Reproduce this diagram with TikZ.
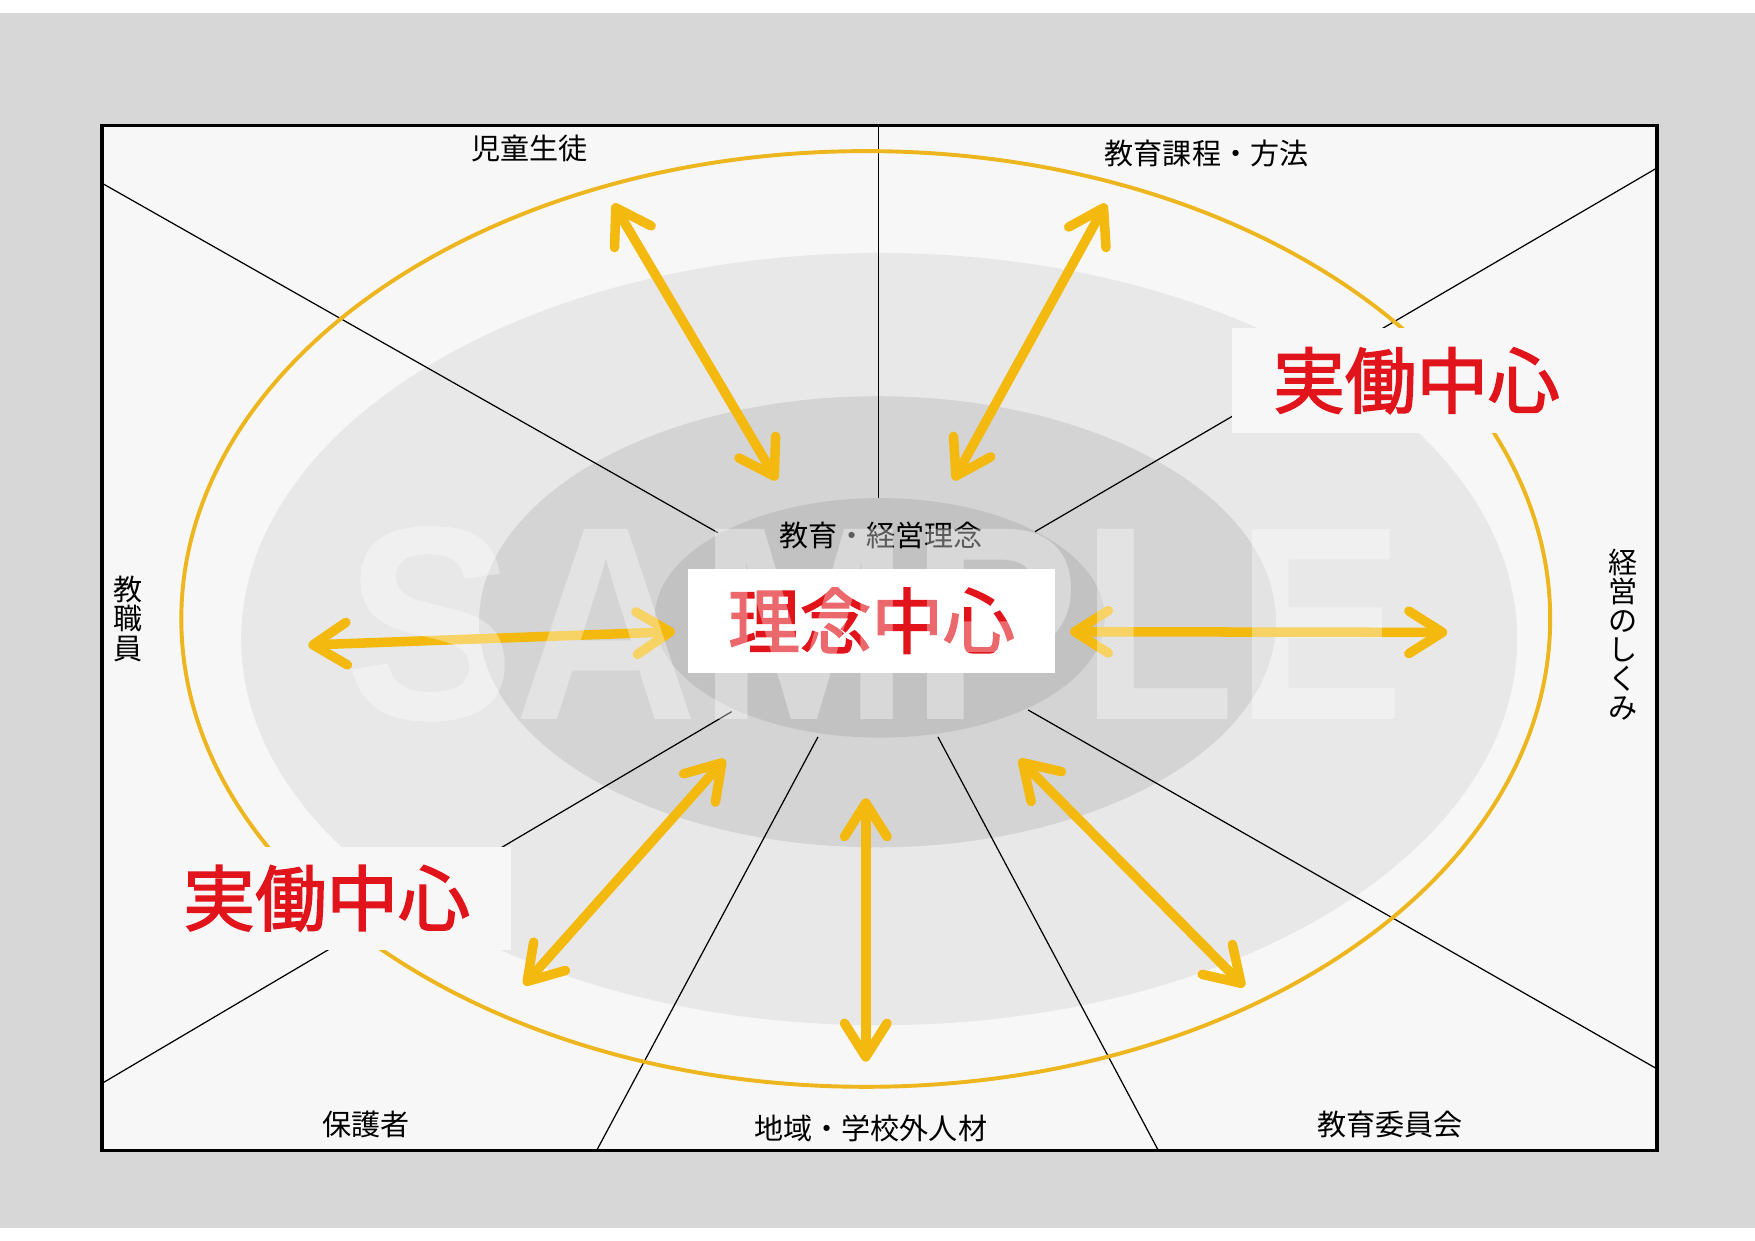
\documentclass[tikz,border=0pt]{standalone}
\usepackage{fontspec}
\newfontfamily\jp{Noto Sans CJK JP}
\newfontfamily\jpred[FakeBold=2.2]{Noto Sans CJK JP}
\newfontfamily\wm{Liberation Sans}
\usetikzlibrary{arrows.meta}
\definecolor{pagegray}{HTML}{D7D7D7}
\definecolor{framefill}{HTML}{F7F7F7}
\definecolor{ellA}{HTML}{E8E8E8}
\definecolor{ellB}{HTML}{D4D4D4}
\definecolor{ellC}{HTML}{C2C2C2}
\definecolor{ringc}{HTML}{EDB61E}
\definecolor{arrowc}{HTML}{F4B90F}
\definecolor{redc}{HTML}{E0141A}
\tikzset{
  biarrow/.style={draw=arrowc, line width=8.5pt,
    {Straight Barb[length=30pt,width=38pt,round]}-{Straight Barb[length=30pt,width=38pt,round]}},
  radial/.style={draw=black, line width=1.1pt},
  lbl/.style={font=\jp\fontsize{26}{26}\selectfont, inner sep=0pt, text=black},
  redlbl/.style={font=\jpred\fontsize{64}{64}\selectfont, text=redc, inner sep=0pt},
}
\begin{document}
\begin{tikzpicture}[x=1pt,y=-1pt]
\useasboundingbox (0,0) rectangle (1568,1108.76);
% page
\fill[pagegray] (0,0) rectangle (1568,1108.76);
\fill[white] (0,0) rectangle (1568,11.6);
\fill[white] (0,1097) rectangle (1568,1108.76);
% frame fill
\fill[framefill] (91,112) rectangle (1480.5,1028);
% grey ellipses
\fill[ellA] (785.5,571) ellipse [x radius=570, y radius=345];
\fill[ellB] (784,555.5) ellipse [x radius=356, y radius=201.5];
\fill[ellC] (786,552) ellipse [x radius=201, y radius=107];
% radial line coordinates
\coordinate (t0) at (785,112);    \coordinate (t1) at (785,445);
\coordinate (tl0) at (91,163.6);  \coordinate (tl1) at (641.5,476);
\coordinate (tr0) at (1480.5,150);\coordinate (tr1) at (924.7,475);
\coordinate (bl0) at (91,968);    \coordinate (bl1) at (653.7,635.8);
\coordinate (bm0) at (533,1028);  \coordinate (bm1) at (730.8,658.4);
\coordinate (bn0) at (1035,1028); \coordinate (bn1) at (838,658.4);
\coordinate (br0) at (1480.5,955);\coordinate (br1) at (918.5,634.3);
\draw[radial] (t0) -- (t1);
\draw[radial] (tl0) -- (tl1);
\draw[radial] (tr0) -- (tr1);
\draw[radial] (bl0) -- (bl1);
\draw[radial] (bm0) -- (bm1);
\draw[radial] (bn0) -- (bn1);
\draw[radial] (br0) -- (br1);
% yellow ring
\draw[ringc, line width=3.5pt] (773.5,553) ellipse [x radius=611.5, y radius=418];
% label boxes with red text
\node[redlbl, fill=white, minimum width=328pt, minimum height=93.3pt] (center) at (778.6,554.6) {理念中心};
\node[redlbl, fill=framefill, minimum width=329pt, minimum height=93.3pt] (jtr) at (1265.5,340) {実働中心};
\node[redlbl, fill=framefill, minimum width=329pt, minimum height=92.3pt] (jbl) at (291.8,802.5) {実働中心};
% arrows
\coordinate (a1s) at (548,182);     \coordinate (a1e) at (694,429);
\coordinate (a2s) at (988,182);     \coordinate (a2e) at (852,429);
\coordinate (a3s) at (275.5,576.3); \coordinate (a3e) at (603,564.4);
\coordinate (a4s) at (956,564.4);   \coordinate (a4e) at (1293,565);
\coordinate (a5s) at (647.7,678.4); \coordinate (a5e) at (468.2,880);
\coordinate (a6s) at (773.5,713.2); \coordinate (a6e) at (773.5,948.5);
\coordinate (a7s) at (910.7,678.4); \coordinate (a7e) at (1111.7,881.5);
\draw[biarrow] (a1s) -- (a1e);
\draw[biarrow] (a2s) -- (a2e);
\draw[biarrow] (a3s) -- (a3e);
\draw[biarrow] (a4s) -- (a4e);
\draw[biarrow] (a5s) -- (a5e);
\draw[biarrow] (a6s) -- (a6e);
\draw[biarrow] (a7s) -- (a7e);
% labels
\node[lbl] (n1) at (473,133) {児童生徒};
\node[lbl] (n2) at (1078,137) {教育課程・方法};
\node[lbl, align=center] (n3) at (114,553) {教\\職\\員};
\node[lbl, align=center] (n4) at (1450,567) {経\\営\\の\\し\\く\\み};
\node[lbl] (n5) at (327,1005) {保護者};
\node[lbl] (n6) at (778,1008) {地域・学校外人材};
\node[lbl] (n7) at (1242,1005) {教育委員会};
\node[lbl] (n8) at (787,478) {教育・経営理念};
% frame border
\draw[line width=3pt, black] (91,112) rectangle (1480.5,1028);
% watermark
\node[font=\wm\bfseries\fontsize{247}{247}\selectfont, text=white, text opacity=0.36, inner sep=0pt, xscale=0.92] (wm) at (782,558) {SAMPLE};
\end{tikzpicture}
\end{document}
